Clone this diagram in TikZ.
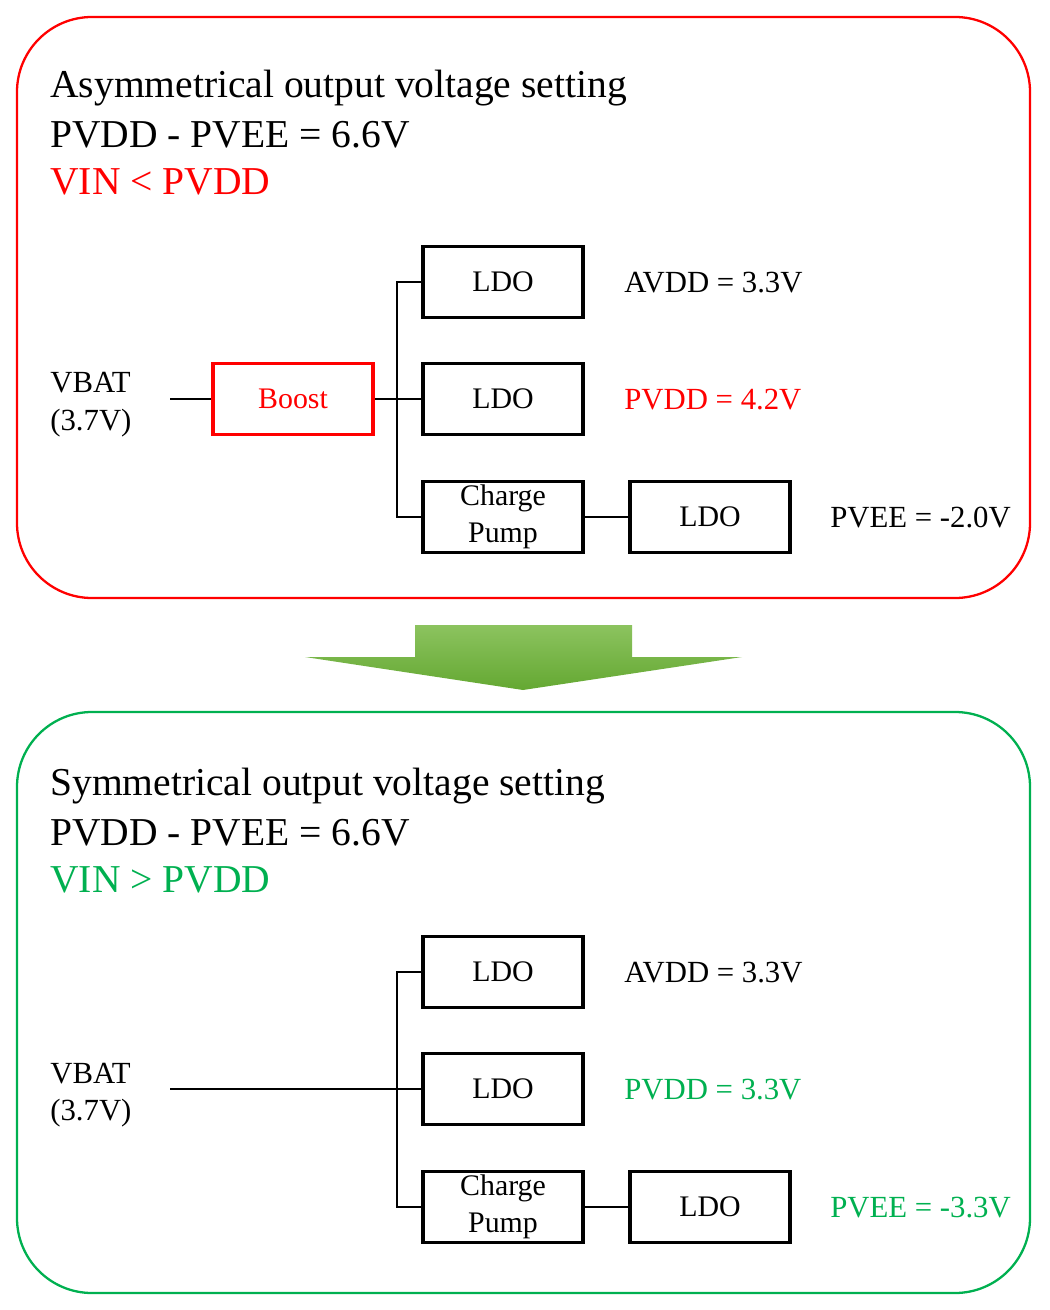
\documentclass[tikz,border=0pt]{standalone}
\usepackage{fontspec}
\setmainfont{Liberation Serif}
\usetikzlibrary{positioning}
\definecolor{myred}{RGB}{255,0,0}
\definecolor{mygreen}{RGB}{0,176,80}
\definecolor{arrtop}{RGB}{140,195,95}
\definecolor{arrbot}{RGB}{100,168,50}
\tikzset{
  blk/.style={draw,line width=2.2pt,minimum width=3.2cm,minimum height=1.42cm,inner sep=0pt,font=\fontsize{17}{21}\selectfont,align=center},
  lbl/.style={anchor=west,inner sep=0pt,font=\fontsize{17.5}{21.5}\selectfont},
  ttl/.style={anchor=west,inner sep=0pt,font=\fontsize{22.5}{22.5}\selectfont},
  wire/.style={line width=1.2pt}
}
\begin{document}
\begin{tikzpicture}[x=0.02cm,y=-0.02cm]
\useasboundingbox (0,0) rectangle (1050,1310);
% top panel
\draw[myred,line width=1.3pt,rounded corners=1.5cm] (17,17) rectangle (1030,598);
\node[ttl] (t1) at (50,88) {Asymmetrical output voltage setting};
\node[ttl] (t2) at (50,135) {PVDD - PVEE = 6.6V};
\node[ttl,myred] (t3) at (50,182) {VIN < PVDD};
\node[blk] (ldoa) at (503,282) {LDO};
\node[blk] (ldob) at (503,399) {LDO};
\node[blk] (cpa) at (503,517) {Charge\\Pump};
\node[blk] (ldoc) at (710,517) {LDO};
\node[blk,draw=myred,text=myred] (boost) at (293,399) {Boost};
\node[lbl,align=left] (vbata) at (50,405) {VBAT\\(3.7V)};
\node[lbl] (avdda) at (624,283) {AVDD = 3.3V};
\node[lbl,myred] (pvdda) at (624,400) {PVDD = 4.2V};
\node[lbl] (pveea) at (830,518) {PVEE = -2.0V};
\coordinate (bus) at (397,399);
\draw[wire] (170,399) -- (boost.west);
\draw[wire] (boost.east) -- (ldob.west);
\draw[wire] (ldoa.west) -| (bus) |- (cpa.west);
\draw[wire] (cpa.east) -- (ldoc.west);
% arrow
\shade[top color=arrtop,bottom color=arrbot]
  (415,625) -- (632,625) -- (632,657) -- (742,657) -- (523,690) -- (305,657) -- (415,657) -- cycle;
% bottom panel
\draw[mygreen,line width=1.3pt,rounded corners=1.5cm] (17,712) rectangle (1030,1293);
\node[ttl] (s1) at (50,786) {Symmetrical output voltage setting};
\node[ttl] (s2) at (50,833) {PVDD - PVEE = 6.6V};
\node[ttl,mygreen] (s3) at (50,880) {VIN > PVDD};
\node[blk] (ldod) at (503,972) {LDO};
\node[blk] (ldoe) at (503,1089) {LDO};
\node[blk] (cpb) at (503,1207) {Charge\\Pump};
\node[blk] (ldof) at (710,1207) {LDO};
\node[lbl,align=left] (vbatb) at (50,1095) {VBAT\\(3.7V)};
\node[lbl] (avddb) at (624,973) {AVDD = 3.3V};
\node[lbl,mygreen] (pvddb) at (624,1090) {PVDD = 3.3V};
\node[lbl,mygreen] (pveeb) at (830,1208) {PVEE = -3.3V};
\coordinate (busb) at (397,1089);
\draw[wire] (170,1089) -- (ldoe.west);
\draw[wire] (ldod.west) -| (busb) |- (cpb.west);
\draw[wire] (cpb.east) -- (ldof.west);
\end{tikzpicture}
\end{document}
